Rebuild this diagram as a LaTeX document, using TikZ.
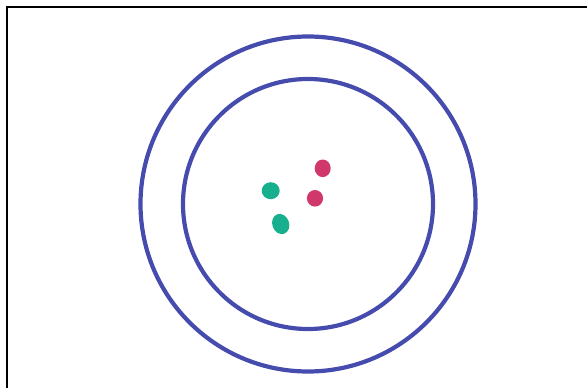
\documentclass[tikz,border=0pt]{standalone}
\definecolor{ringblue}{HTML}{464CAE}
\definecolor{dotpink}{HTML}{D0386C}
\definecolor{dotteal}{HTML}{17AF8E}
\tikzset{
  ring/.style={ringblue, line width=4.2pt},
  pinkdot/.style={fill=dotpink},
  tealdot/.style={fill=dotteal}
}
\begin{document}
\begin{tikzpicture}[x=1pt,y=-1pt]
    \useasboundingbox (0,0) rectangle (587,388);
    \draw[line width=1.8pt] (7,400) -- (7,7) -- (600,7);
    \coordinate (c) at (308,204);
    \draw[ring] (c) circle (167.5);
    \draw[ring] (c) circle (125);
    \fill[pinkdot] (322.7,168.3) ellipse (8 and 8.8);
    \fill[pinkdot] (315,198.3) ellipse (8.1 and 8.3);
    \fill[tealdot] (270.7,190.7) ellipse (9 and 8.5);
    \fill[tealdot, rotate around={20:(280.7,224)}] (280.7,224) ellipse (8.4 and 10.3);
\end{tikzpicture}
\end{document}
